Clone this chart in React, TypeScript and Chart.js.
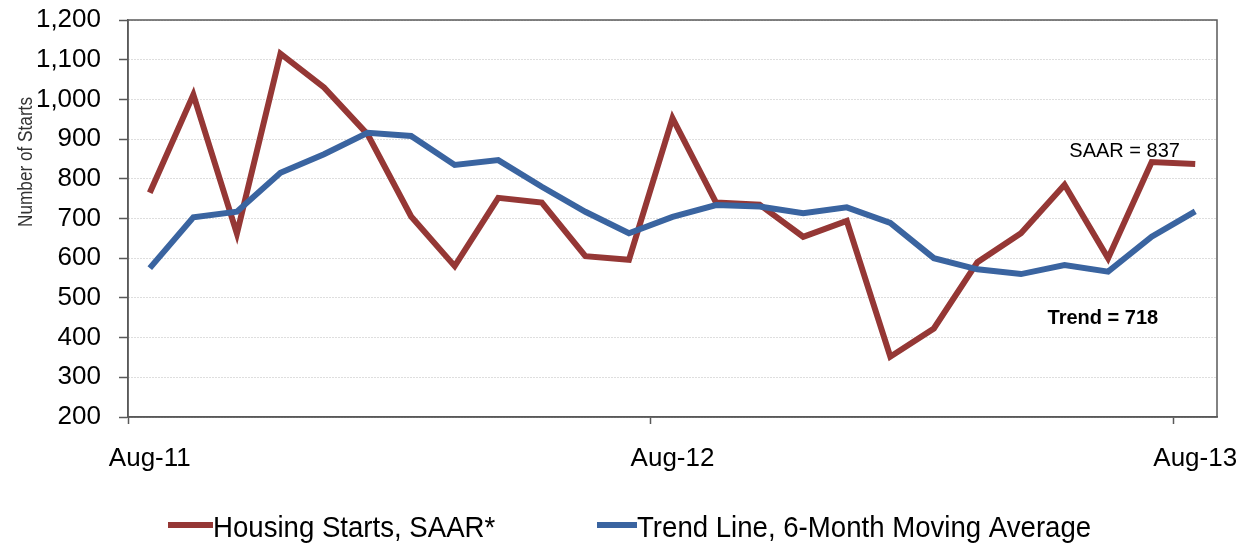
import React, { useEffect, useRef } from 'react';
import { Chart, registerables } from 'chart.js';

Chart.register(...registerables);

const months = [
  'Aug-11', 'Sep-11', 'Oct-11', 'Nov-11', 'Dec-11', 'Jan-12', 'Feb-12', 'Mar-12', 'Apr-12',
  'May-12', 'Jun-12', 'Jul-12', 'Aug-12', 'Sep-12', 'Oct-12', 'Nov-12', 'Dec-12', 'Jan-13',
  'Feb-13', 'Mar-13', 'Apr-13', 'May-13', 'Jun-13', 'Jul-13', 'Aug-13',
];
const labeledMonths = ['Aug-11', 'Aug-12', 'Aug-13'];

const housingStarts = [765, 1012, 662, 1115, 1030, 912, 705, 580, 752, 740, 605, 596, 953, 740, 735, 654, 694, 352, 423, 590, 663, 785, 600, 842, 837];
const trendLine = [575, 703, 717, 815, 862, 916, 908, 835, 847, 780, 717, 663, 704, 734, 730, 713, 728, 689, 600, 572, 560, 583, 566, 654, 718];

const seriesNames = ['Housing Starts, SAAR*', 'Trend Line, 6-Month Moving Average'];
const yMin = 200;
const yMax = 1200;
const yStep = 100;
const yTitle = 'Number of Starts';
const saarNote = 'SAAR = 837';
const trendNote = 'Trend = 718';

const FONT = '"Liberation Sans", Arial, Helvetica, sans-serif';
const RED = '#953735';
const BLUE = '#3a64a0';
const AXIS = '#595959';

const extrasPlugin = {
  id: 'extras',
  beforeDatasetsDraw(chart: any) {
    const { ctx, chartArea: a } = chart;
    ctx.save();
    ctx.strokeStyle = AXIS;
    ctx.lineWidth = 1.5;
    ctx.strokeRect(a.left, a.top, a.right - a.left, a.bottom - a.top);
    ctx.restore();
  },
  afterDraw(chart: any) {
    const { ctx, scales } = chart;
    const x = scales.x;
    const y = scales.y;
    ctx.save();
    // annotations
    ctx.fillStyle = '#000';
    ctx.textAlign = 'center';
    ctx.textBaseline = 'alphabetic';
    ctx.font = `20px ${FONT}`;
    ctx.fillText(saarNote, x.getPixelForValue(22.38), y.getPixelForValue(855));
    ctx.font = `bold 20px ${FONT}`;
    ctx.fillText(trendNote, x.getPixelForValue(21.88), y.getPixelForValue(434));

    // y title
    ctx.save();
    ctx.translate(26, 162);
    ctx.rotate(-Math.PI / 2);
    ctx.scale(0.86, 1);
    ctx.font = `20px ${FONT}`;
    ctx.fillStyle = '#333';
    ctx.textAlign = 'center';
    ctx.textBaseline = 'middle';
    ctx.fillText(yTitle, 0, 0);
    ctx.restore();

    // legend
    ctx.fillStyle = RED;
    ctx.fillRect(168, 522, 45, 6);
    ctx.fillStyle = BLUE;
    ctx.fillRect(597, 522, 40, 6);
    ctx.font = `30px ${FONT}`;
    ctx.textAlign = 'left';
    ctx.textBaseline = 'alphabetic';
    ctx.fillStyle = '#000';
    ctx.save();
    ctx.translate(213, 537);
    ctx.scale(0.92, 1);
    ctx.fillText(seriesNames[0], 0, 0);
    ctx.restore();
    ctx.save();
    ctx.translate(637, 537);
    ctx.scale(0.92, 1);
    ctx.fillText(seriesNames[1], 0, 0);
    ctx.restore();
    ctx.restore();
  },
};

export default function App() {
  const canvasRef = useRef<HTMLCanvasElement | null>(null);

  useEffect(() => {
    if (!canvasRef.current) return;
    const chart = new Chart(canvasRef.current, {
      type: 'line',
      data: {
        labels: months,
        datasets: [
          {
            label: seriesNames[0],
            data: housingStarts,
            borderColor: RED,
            backgroundColor: RED,
            borderWidth: 6,
            pointRadius: 0,
            tension: 0,
            borderJoinStyle: 'miter',
            fill: false,
            order: 2,
          },
          {
            label: seriesNames[1],
            data: trendLine,
            borderColor: BLUE,
            backgroundColor: BLUE,
            borderWidth: 6,
            pointRadius: 0,
            tension: 0,
            borderJoinStyle: 'miter',
            fill: false,
            order: 1,
          },
        ],
      },
      options: {
        animation: false,
        responsive: true,
        maintainAspectRatio: false,
        layout: { padding: { left: 0, right: 33, top: 20, bottom: 71 } },
        plugins: {
          legend: { display: false },
          tooltip: { enabled: false },
          title: { display: false },
        },
        scales: {
          x: {
            type: 'category',
            offset: true,
            grid: {
              display: true,
              drawOnChartArea: false,
              offset: true,
              tickLength: 7,
              tickWidth: 1.5,
              tickColor: (c: any) =>
                c.index === 0 || c.index === 12 || c.index === 24 ? AXIS : 'rgba(0,0,0,0)',
            },
            border: { display: true, color: AXIS, width: 1.5 },
            ticks: {
              autoSkip: false,
              maxRotation: 0,
              minRotation: 0,
              padding: 19,
              color: '#000',
              font: { family: FONT, size: 26 },
              callback: (_v: any, i: number) => (labeledMonths.includes(months[i]) ? months[i] : ''),
            },
            afterFit: (s: any) => {
              s.height = 60;
              s.paddingLeft = 0;
              s.paddingRight = 0;
            },
          },
          y: {
            min: yMin,
            max: yMax,
            ticks: {
              stepSize: yStep,
              padding: 18,
              color: '#000',
              font: { family: FONT, size: 26 },
              callback: (v: any) => Number(v).toLocaleString('en-US'),
            },
            grid: {
              color: '#bdbdbd',
              lineWidth: 1,
              tickLength: 9,
              tickColor: AXIS,
              tickWidth: 1.5,
            },
            border: { display: true, color: AXIS, width: 1.5, dash: [1, 2] },
            afterFit: (s: any) => {
              s.width = 128;
              s.paddingTop = 0;
              s.paddingBottom = 0;
            },
          },
        },
      },
      plugins: [extrasPlugin],
    } as any);
    return () => chart.destroy();
  }, []);

  return (
    <div style={{ position: 'fixed', left: 0, top: 0, width: 1250, height: 548, background: '#fff' }}>
      <canvas ref={canvasRef} />
    </div>
  );
}
